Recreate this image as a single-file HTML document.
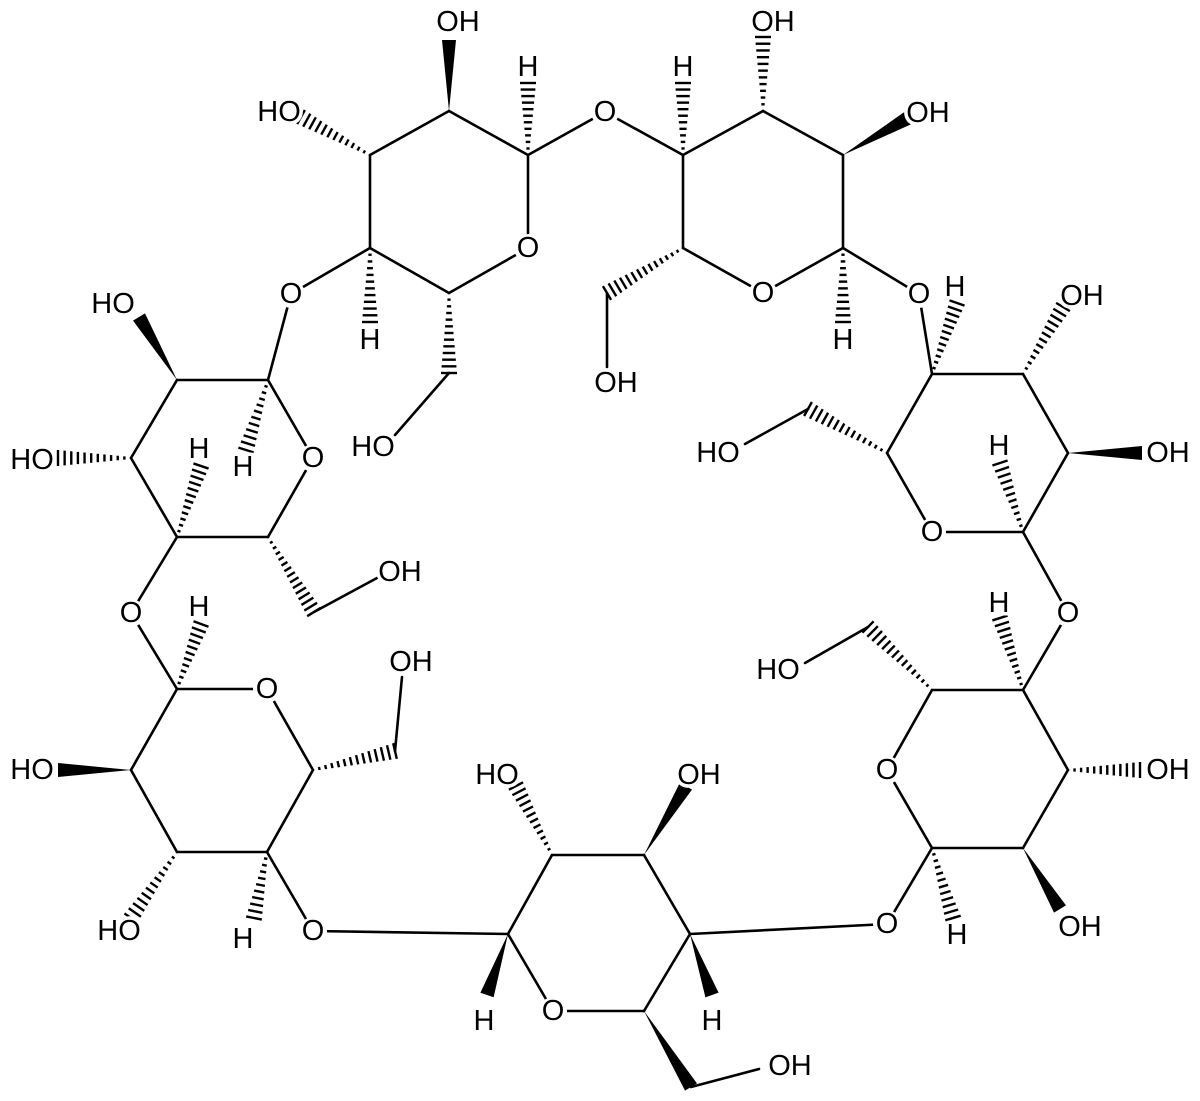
<!DOCTYPE html>
<html><head><meta charset="utf-8"><style>
html,body{margin:0;padding:0;background:#fff;}
svg{display:block;}
text{font-family:"Liberation Sans",Arial,sans-serif;font-size:29px;fill:#000;text-anchor:middle;dominant-baseline:central;paint-order:stroke;stroke:#fff;stroke-width:7px;stroke-linejoin:round;}
text.o{stroke:none;}
</style></head><body>
<svg id="s" width="1200" height="1101" viewBox="0 0 1200 1101" xmlns="http://www.w3.org/2000/svg">
<g id="b" stroke="#000" stroke-width="2.6" stroke-linecap="round" fill="none"></g>
<g id="h" stroke="#000" stroke-width="2.4" fill="none"></g>
<g id="w" fill="#000" stroke="none"></g>
<g fill="#fff">
<circle cx="605" cy="112" r="14"/><circle cx="528" cy="248" r="14"/><circle cx="763" cy="293" r="14"/>
<circle cx="919" cy="294" r="14"/><circle cx="291" cy="294" r="14"/><circle cx="932" cy="532" r="14"/>
<circle cx="1068" cy="613" r="14"/><circle cx="887" cy="770" r="14"/><circle cx="887" cy="924" r="14"/>
<circle cx="553" cy="1011" r="14"/><circle cx="313" cy="931" r="14"/><circle cx="267" cy="689" r="14"/>
<circle cx="131" cy="613" r="14"/><circle cx="313" cy="458" r="14"/>
</g>
<g id="t">
<text x="458" y="22">OH</text><text x="279" y="112">HO</text><text x="528" y="67">H</text>
<text class="o" x="605" y="112">O</text><text x="683" y="67">H</text><text x="773" y="22">OH</text>
<text x="928" y="113">OH</text><text class="o" x="528" y="248">O</text><text class="o" x="763" y="293">O</text>
<text x="370" y="340">H</text><text x="373" y="447">HO</text><text x="843" y="340">H</text>
<text x="616" y="383">OH</text><text class="o" x="919" y="294">O</text><text class="o" x="291" y="294">O</text>
<text x="955" y="287">H</text><text x="1082" y="296">OH</text><text x="1168" y="453">OH</text>
<text x="999" y="446">H</text><text x="718" y="453">HO</text><text class="o" x="932" y="532">O</text>
<text class="o" x="1068" y="613">O</text>
<text x="999" y="603">H</text><text x="778" y="670">HO</text><text class="o" x="887" y="770">O</text>
<text x="1168" y="770">OH</text><text x="1080" y="927">OH</text><text x="957" y="935">H</text>
<text class="o" x="887" y="924">O</text>
<text x="497" y="775">HO</text><text x="699" y="775">OH</text><text x="484" y="1021">H</text>
<text x="712" y="1021">H</text><text x="790" y="1066">OH</text><text class="o" x="553" y="1011">O</text>
<text class="o" x="313" y="931">O</text>
<text x="199" y="607">H</text><text x="411" y="662">OH</text><text class="o" x="267" y="689">O</text>
<text x="32" y="770">HO</text><text x="119" y="931">HO</text><text x="243" y="939">H</text>
<text class="o" x="131" y="613">O</text>
<text x="113" y="304">HO</text><text x="32" y="460">HO</text><text x="243" y="467">H</text>
<text x="199" y="449">H</text><text x="400" y="572">OH</text><text class="o" x="313" y="458">O</text>
</g>
</svg>
<script>
(function(){
var NS="http://www.w3.org/2000/svg";
function ring(p){var r=[];for(var i=0;i<p.length;i++){var a=p[i],b=p[(i+1)%p.length];r.push([a[0],a[1],b[0],b[1]]);}return r;}
var plain=[].concat(
ring([[449,111],[528,155],[528,248],[449,293],[370,248],[370,155]]),
ring([[683,155],[763,111],[843,155],[843,248],[763,293],[683,248]]),
ring([[932,374],[1023,374],[1068,453],[1023,532],[932,532],[887,453]]),
ring([[1023,690],[1068,770],[1023,848],[932,848],[887,770],[932,690]]),
ring([[508,934],[552,855],[644,855],[690,934],[644,1011],[553,1011]]),
ring([[177,689],[267,689],[313,770],[267,852],[177,852],[131,770]]),
ring([[268,380],[177,380],[131,458],[177,537],[268,537],[313,458]]),
[[449,373,395,435],[528,155,605,112],[605,112,683,155],[370,248,291,294],
[607,293,607,367],[843,248,919,294],
[919,294,932,374],[808,409,745,444],[1023,532,1068,613],
[1068,613,1023,690],[868,627,805,663],[932,848,887,924],[887,924,690,934],
[691,1087,759,1069],[508,934,313,931],
[395,751,402,677],[267,852,313,931],[177,689,131,613],
[314,612,377,578],[177,537,131,613],[268,380,291,294]]);
var hash=[[370,155,301,117],[528,155,528,83],[370,248,370,322],[449,293,449,373],
[683,155,683,83],[763,111,763,37],[843,248,843,322],[683,248,607,293],
[932,374,957,303],[1023,374,1063,307],[1023,532,1000,463],[887,453,808,409],
[1023,690,1000,618],[932,690,868,627],[1068,770,1140,770],[932,848,953,918],
[552,855,516,786],
[177,689,201,624],[267,852,254,918],[177,852,131,918],[313,770,395,751],
[131,458,58,458],[268,380,246,450],[177,537,201,466],[268,537,314,612]];
var wedge=[[449,111,449,40],[843,155,908,118],[1068,453,1142,453],[1023,848,1060,909],
[644,855,686,786],[508,934,487,995],[690,934,712,995],[644,1011,691,1087],
[131,770,58,770],[177,380,139,317]];
var gb=document.getElementById('b'),gh=document.getElementById('h'),gw=document.getElementById('w');
plain.forEach(function(l){var e=document.createElementNS(NS,'line');e.setAttribute('x1',l[0]);e.setAttribute('y1',l[1]);e.setAttribute('x2',l[2]);e.setAttribute('y2',l[3]);gb.appendChild(e);});
hash.forEach(function(l){var dx=l[2]-l[0],dy=l[3]-l[1],L=Math.sqrt(dx*dx+dy*dy),ux=dx/L,uy=dy/L,px=-uy,py=ux;var n=Math.round(L/6.5);
for(var i=1;i<=n;i++){var t=i/n,cx=l[0]+dx*t,cy=l[1]+dy*t,w=1+7*t;var e=document.createElementNS(NS,'line');
e.setAttribute('x1',cx+px*w);e.setAttribute('y1',cy+py*w);e.setAttribute('x2',cx-px*w);e.setAttribute('y2',cy-py*w);gh.appendChild(e);}});
wedge.forEach(function(l){var dx=l[2]-l[0],dy=l[3]-l[1],L=Math.sqrt(dx*dx+dy*dy),px=-dy/L,py=dx/L,w=7;
var e=document.createElementNS(NS,'polygon');e.setAttribute('points',l[0]+','+l[1]+' '+(l[2]+px*w)+','+(l[3]+py*w)+' '+(l[2]-px*w)+','+(l[3]-py*w));gw.appendChild(e);});
})();
</script>
</body></html>
